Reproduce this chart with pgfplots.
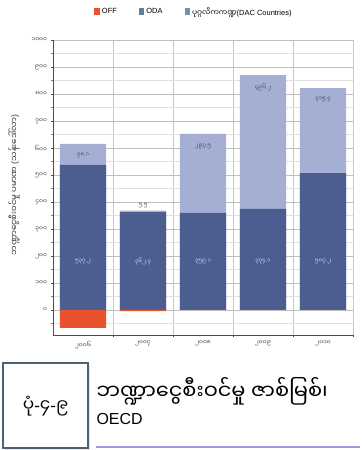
\documentclass[border=0pt]{standalone}
\usepackage{pgfplots}
\pgfplotsset{compat=1.18}
\usepackage{pgfplotstable}
\usepackage{fontspec}
\setmainfont{Liberation Sans}
\newfontfamily\my[Script=Myanmar]{Noto Sans Myanmar UI}
\newcommand\pt{{\rmfamily.}}
\newcommand\hy{{\rmfamily-}}
\newcommand\lp{{\rmfamily(}}
\newcommand\rp{{\rmfamily)}}
\definecolor{offc}{HTML}{E8532E}
\definecolor{odac}{HTML}{4B5E8F}
\definecolor{dacc}{HTML}{A5AFD3}
\definecolor{legoda}{HTML}{5F7F9C}
\definecolor{legdac}{HTML}{7290AA}
\definecolor{boxc}{HTML}{4F6070}
\pgfplotstableread{
x ODA DAC OFF
0 537 78 -67
1 362 6 -5
2 359 293 0
3 374 496 0
4 507 315 0
}\data
\begin{document}
\begin{tikzpicture}[x=1bp,y=1bp]
\useasboundingbox (0,0) rectangle (361,450);
\begin{axis}[
  at={(53bp,115bp)}, anchor=south west,
  scale only axis, width=300bp, height=295bp,
  xmin=-0.5, xmax=4.5, ymin=-93, ymax=1000,
  ybar, bar width=0.77, bar shift=0pt,
  axis x line*=bottom, axis y line*=left,
  axis line style={draw=black!70, line width=0.6pt},
  xtick={0,1,2,3,4},
  xticklabels={{\my ၂၀၀၆},{\my ၂၀၀၇},{\my ၂၀၀၈},{\my ၂၀၀၉},{\my ၂၀၁၀}},
  major x tick style={draw=none},
  minor xtick={0.5,1.5,2.5,3.5,4.5},
  minor x tick style={draw=black!70},
  xminorgrids, minor x grid style={draw=black!22, line width=0.4pt},
  ytick={0,100,...,1000},
  yticklabels={{\my ၀},{\my ၁၀၀},{\my ၂၀၀},{\my ၃၀၀},{\my ၄၀၀},{\my ၅၀၀},{\my ၆၀၀},{\my ၇၀၀},{\my ၈၀၀},{\my ၉၀၀},{\my ၁၀၀၀}},
  minor ytick={-50,50,150,...,950},
  ymajorgrids, yminorgrids,
  major y grid style={draw=black!25, line width=0.4pt},
  minor y grid style={draw=black!12, line width=0.3pt},
  major y tick style={draw=black!70},
  tick label style={font=\fontsize{6}{7}\selectfont, text=black!75},
  tick align=outside, major tick length=2.5bp, minor tick length=2.5bp,
  legend style={at={(0.47,1.095)}, anchor=center, draw=none, fill=none,
    legend columns=3, font=\fontsize{7.5}{8}\selectfont,
    /tikz/every even column/.append style={column sep=20bp}},
  legend image code/.code={\fill[#1] (0bp,-3.5bp) rectangle (5.5bp,3.5bp);},
]
\addlegendimage{fill=offc, draw=none}
\addlegendentry{OFF}
\addlegendimage{fill=legoda, draw=none}
\addlegendentry{ODA}
\addlegendimage{fill=legdac, draw=none}
\addlegendentry{{\my ပုဂ္ဂလိကကဏ္ဍ}(DAC Countries)}
\addplot[fill=dacc, draw=none, forget plot] table[x=x, y expr=\thisrow{ODA}+\thisrow{DAC}] {\data};
\addplot[fill=odac, draw=none, forget plot] table[x=x, y=ODA] {\data};
\addplot[fill=offc, draw=none, forget plot] table[x=x, y=OFF] {\data};
\begin{scope}[every node/.style={font=\my\fontsize{5.5}{6}\selectfont}]
\node[text=odac!70!black] at (axis cs:0,572) {၇၈\pt ၁};
\node[text=odac!70!black] at (axis cs:1,387) {၅\pt ၅};
\node[text=odac!70!black] at (axis cs:2,606) {၂၉၃\pt ၅};
\node[text=odac!70!black] at (axis cs:3,826) {၄၉၆\pt ၂};
\node[text=odac!70!black] at (axis cs:4,778) {၃၁၅\pt ၄};
\node[text=white!85!blue] at (axis cs:0,178) {၅၃၇\pt ၂};
\node[text=white!85!blue] at (axis cs:1,178) {၃၆၂\pt ၄};
\node[text=white!85!blue] at (axis cs:2,178) {၃၅၉\pt ၁};
\node[text=white!85!blue] at (axis cs:3,178) {၃၇၄\pt ၁};
\node[text=white!85!blue] at (axis cs:4,178) {၅၀၇\pt ၂};
\end{scope}
\end{axis}
\node[rotate=90, font=\my\fontsize{8.5}{9}\selectfont, text=black!80] at (14,265) {ဘဏ္ဍာငွေစီးဝင်မှု ပမာဏ \lp သန်းဒေါ်လာ\rp};
\fill[black!10] (5,0) rectangle (90,85);
\draw[boxc, line width=1.6pt, fill=white] (3,2) rectangle (88,87);
\node[font=\my\fontsize{17}{20}\selectfont] at (45.5,44) {ပုံ\hy ၄\hy ၉};
\node[anchor=west, font=\my\fontsize{21}{23}\selectfont] at (93,59) {ဘဏ္ဍာငွေစီးဝင်မှု ဇာစ်မြစ်၊};
\node[anchor=west, font=\fontsize{16}{18}\selectfont] at (93,31) {OECD};
\draw[black!35!blue!40, line width=1.5pt] (96,3) -- (360,3);
\end{tikzpicture}
\end{document}
